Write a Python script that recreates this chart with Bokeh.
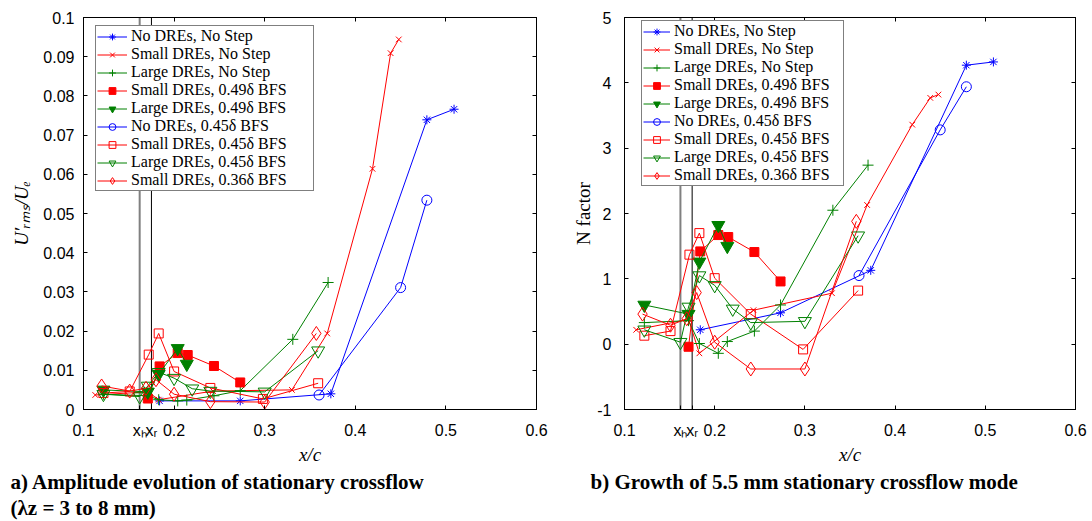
from bokeh.plotting import figure
from bokeh.models import (Range1d, FixedTicker, LinearAxis, Span, Legend, LegendItem, Title,
                          CustomLabelingPolicy)
from bokeh.layouts import row
from bokeh.embed import file_html
from bokeh.resources import INLINE

# ---------------- data ----------------
x_h = 0.162
x_r = 0.175
x_ticks = [0.1, x_h, x_r, 0.2, 0.3, 0.4, 0.5, 0.6]
x_tick_labels = ["0.1", "x\u2095", "x\u1d63", "0.2", "0.3", "0.4", "0.5", "0.6"]
x_box_ticks = [0.1, 0.2, 0.3, 0.4, 0.5, 0.6]
y_ticks_a = [0, 0.01, 0.02, 0.03, 0.04, 0.05, 0.06, 0.07, 0.08, 0.09, 0.1]
y_tick_labels_a = ["0", "0.01", "0.02", "0.03", "0.04", "0.05", "0.06", "0.07", "0.08", "0.09", "0.1"]
y_ticks_b = [-1, 0, 1, 2, 3, 4, 5]
y_tick_labels_b = ["-1", "0", "1", "2", "3", "4", "5"]

names = ["No DREs, No Step", "Small DREs, No Step", "Large DREs, No Step",
         "Small DREs, 0.49\u03b4 BFS", "Large DREs, 0.49\u03b4 BFS", "No DREs, 0.45\u03b4 BFS",
         "Small DREs, 0.45\u03b4 BFS", "Large DREs, 0.45\u03b4 BFS", "Small DREs, 0.36\u03b4 BFS"]

x_no_dre_nostep = [0.184, 0.273, 0.373, 0.479, 0.509]
a_no_dre_nostep = [0.0022, 0.0022, 0.0040, 0.0739, 0.0766]
b_no_dre_nostep = [0.22, 0.48, 1.13, 4.27, 4.32]

x_small_nostep = [0.113, 0.171, 0.183, 0.243, 0.330, 0.369, 0.419, 0.439, 0.448]
a_small_nostep = [0.0037, 0.0045, 0.0025, 0.0047, 0.0050, 0.0194, 0.0614, 0.0909, 0.0944]
b_small_nostep = [0.22, 0.38, -0.14, 0.52, 0.78, 2.13, 3.36, 3.77, 3.82]

x_large_nostep = [0.122, 0.171, 0.183, 0.204, 0.214, 0.244, 0.273, 0.331, 0.370]
a_large_nostep = [0.0039, 0.0035, 0.0025, 0.0022, 0.0024, 0.0035, 0.0048, 0.0179, 0.0324]
b_large_nostep = [0.33, 0.36, 0.01, -0.14, 0.04, 0.20, 0.60, 2.05, 2.74]

x_small_049 = [0.171, 0.184, 0.204, 0.215, 0.244, 0.273]
a_small_049 = [0.0028, 0.0110, 0.0144, 0.0139, 0.0111, 0.0069]
b_small_049 = [-0.04, 1.42, 1.67, 1.64, 1.41, 0.96]

x_large_049 = [0.122, 0.171, 0.183, 0.204, 0.214]
a_large_049 = [0.0050, 0.0045, 0.0090, 0.0156, 0.0116]
b_large_049 = [0.60, 0.46, 1.26, 1.82, 1.50]

x_no_dre_045 = [0.360, 0.450, 0.479]
a_no_dre_045 = [0.0037, 0.0311, 0.0534]
b_no_dre_045 = [1.05, 3.28, 3.94]

x_small_045 = [0.122, 0.151, 0.172, 0.183, 0.200, 0.240, 0.298, 0.359]
a_small_045 = [0.0042, 0.0046, 0.0140, 0.0194, 0.0097, 0.0055, 0.0027, 0.0067]
b_small_045 = [0.13, 0.20, 1.37, 1.70, 1.01, 0.46, -0.08, 0.82]

x_large_045 = [0.122, 0.162, 0.171, 0.183, 0.200, 0.220, 0.240, 0.300, 0.359]
a_large_045 = [0.0039, 0.0033, 0.0060, 0.0095, 0.0080, 0.0053, 0.0047, 0.0045, 0.0150]
b_large_045 = [0.22, 0.03, 0.57, 1.05, 0.90, 0.54, 0.33, 0.35, 1.66]

x_small_036 = [0.120, 0.151, 0.169, 0.180, 0.200, 0.240, 0.300, 0.357]
a_small_036 = [0.0060, 0.0047, 0.0054, 0.0076, 0.0039, 0.0020, 0.0019, 0.0194]
b_small_036 = [0.46, 0.29, 0.39, 0.79, 0.03, -0.38, -0.38, 1.88]

series_x = [x_no_dre_nostep, x_small_nostep, x_large_nostep, x_small_049, x_large_049,
            x_no_dre_045, x_small_045, x_large_045, x_small_036]
series_a = [a_no_dre_nostep, a_small_nostep, a_large_nostep, a_small_049, a_large_049,
            a_no_dre_045, a_small_045, a_large_045, a_small_036]
series_b = [b_no_dre_nostep, b_small_nostep, b_large_nostep, b_small_049, b_large_049,
            b_no_dre_045, b_small_045, b_large_045, b_small_036]

caption_a1 = "a) Amplitude evolution of stationary crossflow"
caption_a2 = "(\u03bbz = 3 to 8 mm)"
caption_b = "b) Growth of 5.5 mm stationary crossflow mode"

# ---------------- styles ----------------
BLUE, RED, GREEN = "#0000ff", "#ff0000", "#008000"
styles = [
    dict(color=BLUE, marker="asterisk", size=9, filled=False),
    dict(color=RED, marker="x", size=8, filled=False),
    dict(color=GREEN, marker="cross", size=11, filled=False),
    dict(color=RED, marker="square", size=9, filled=True),
    dict(color=GREEN, marker="inverted_triangle", size=13, filled=True),
    dict(color=BLUE, marker="circle", size=10, filled=False),
    dict(color=RED, marker="square", size=9, filled=False),
    dict(color=GREEN, marker="inverted_triangle", size=13, filled=False),
    dict(color=RED, marker="diamond", size=14, filled=False),
]

TICK_FONT = "Liberation Sans"
SERIF = "Liberation Serif"
HIDE_LABELS = CustomLabelingPolicy(code="""
const all = Array.from(indices);
for (const i of all) indices.unset(i);
return indices;
""")


def box_axis(ticks):
    return LinearAxis(ticker=FixedTicker(ticks=ticks), major_label_text_font_size="1px",
                      major_label_policy=HIDE_LABELS,
                      major_label_standoff=0, major_tick_in=4, major_tick_out=0,
                      minor_tick_in=0, minor_tick_out=0, axis_line_color="black")


def make_panel(width, bl, br, bb, y_rng, y_ticks, y_labels, y_title, y_title_style, yvals,
               legend_loc, ylab_standoff, y_title_standoff, label_width, glyph_width):
    p = figure(width=width, height=521, x_range=Range1d(0.1, 0.6), y_range=Range1d(*y_rng),
               output_backend="svg", toolbar_location=None,
               min_border_left=bl, min_border_right=br, min_border_top=17, min_border_bottom=bb)
    p.grid.visible = False
    p.outline_line_color = "black"
    p.outline_line_width = 1
    p.background_fill_color = "white"
    p.border_fill_color = "white"

    xa = p.xaxis[0]
    xa.ticker = FixedTicker(ticks=x_ticks)
    xa.major_label_overrides = dict(zip(x_ticks, x_tick_labels))
    xa.axis_label = "x/c"
    ya = p.yaxis[0]
    ya.ticker = FixedTicker(ticks=y_ticks)
    ya.major_label_overrides = dict(zip(y_ticks, y_labels))
    ya.axis_label = y_title
    for ax in (xa, ya):
        ax.major_tick_in = 4
        ax.major_tick_out = 0
        ax.minor_tick_in = 0
        ax.minor_tick_out = 0
        ax.axis_line_color = "black"
        ax.major_tick_line_color = "black"
        ax.major_label_text_font = TICK_FONT
        ax.major_label_text_font_size = "16px"
        ax.major_label_text_color = "black"
        ax.axis_label_text_font = SERIF
        ax.axis_label_text_font_style = "italic"
        ax.axis_label_text_font_size = "19px"
        ax.axis_label_text_color = "black"
    ya.axis_label_text_font_style = y_title_style
    xa.major_label_standoff = 12
    xa.axis_label_standoff = 2
    ya.major_label_standoff = ylab_standoff
    ya.axis_label_standoff = y_title_standoff

    p.add_layout(box_axis(x_box_ticks), "above")
    p.add_layout(box_axis(y_ticks), "right")

    p.add_layout(Span(location=x_h, dimension="height", line_color="#808080", line_width=2, level="underlay"))
    p.add_layout(Span(location=x_r, dimension="height", line_color="black", line_width=1, level="underlay"))

    items = []
    for name, xs, ys, st in zip(names, series_x, yvals, styles):
        ln = p.line(xs, ys, line_color=st["color"], line_width=1)
        sc = p.scatter(xs, ys, marker=st["marker"], size=st["size"], line_color=st["color"],
                       line_width=1, fill_color=st["color"] if st["filled"] else None)
        items.append(LegendItem(label=name, renderers=[ln, sc]))

    leg = Legend(items=items, location=legend_loc, orientation="vertical",
                 label_text_font=SERIF, label_text_font_size="16px",
                 label_text_color="black", label_height=17, glyph_height=17,
                 glyph_width=glyph_width, label_width=label_width, label_standoff=4,
                 spacing=0, padding=1, margin=0,
                 border_line_color="black", border_line_width=1,
                 background_fill_color="white", background_fill_alpha=1.0)
    p.add_layout(leg)
    return p


p1 = make_panel(565, 83, 29, 111, (0, 0.1), y_ticks_a, y_tick_labels_a,
                "U\u2032\u1d63\u2098\u209b/U\u2091", "italic", series_a, (12, 218), 9, 8, 181, 30)
p2 = make_panel(527, 59, 17, 112, (-1, 5), y_ticks_b, y_tick_labels_b,
                "N factor", "normal", series_b, (17, 223), 13, 0, 168, 27)

cap = dict(text_font=SERIF, text_font_style="bold", text_font_size="21px", text_color="black",
           align="left", standoff=0)
p1.add_layout(Title(text=caption_a1, offset=-73, **cap), "below")
p1.add_layout(Title(text=caption_a2, offset=-73, **cap), "below")
p2.add_layout(Title(text=caption_b, offset=-34, **cap), "below")

layout = row(p1, p2)
open("out.html", "w").write(file_html(layout, INLINE))
